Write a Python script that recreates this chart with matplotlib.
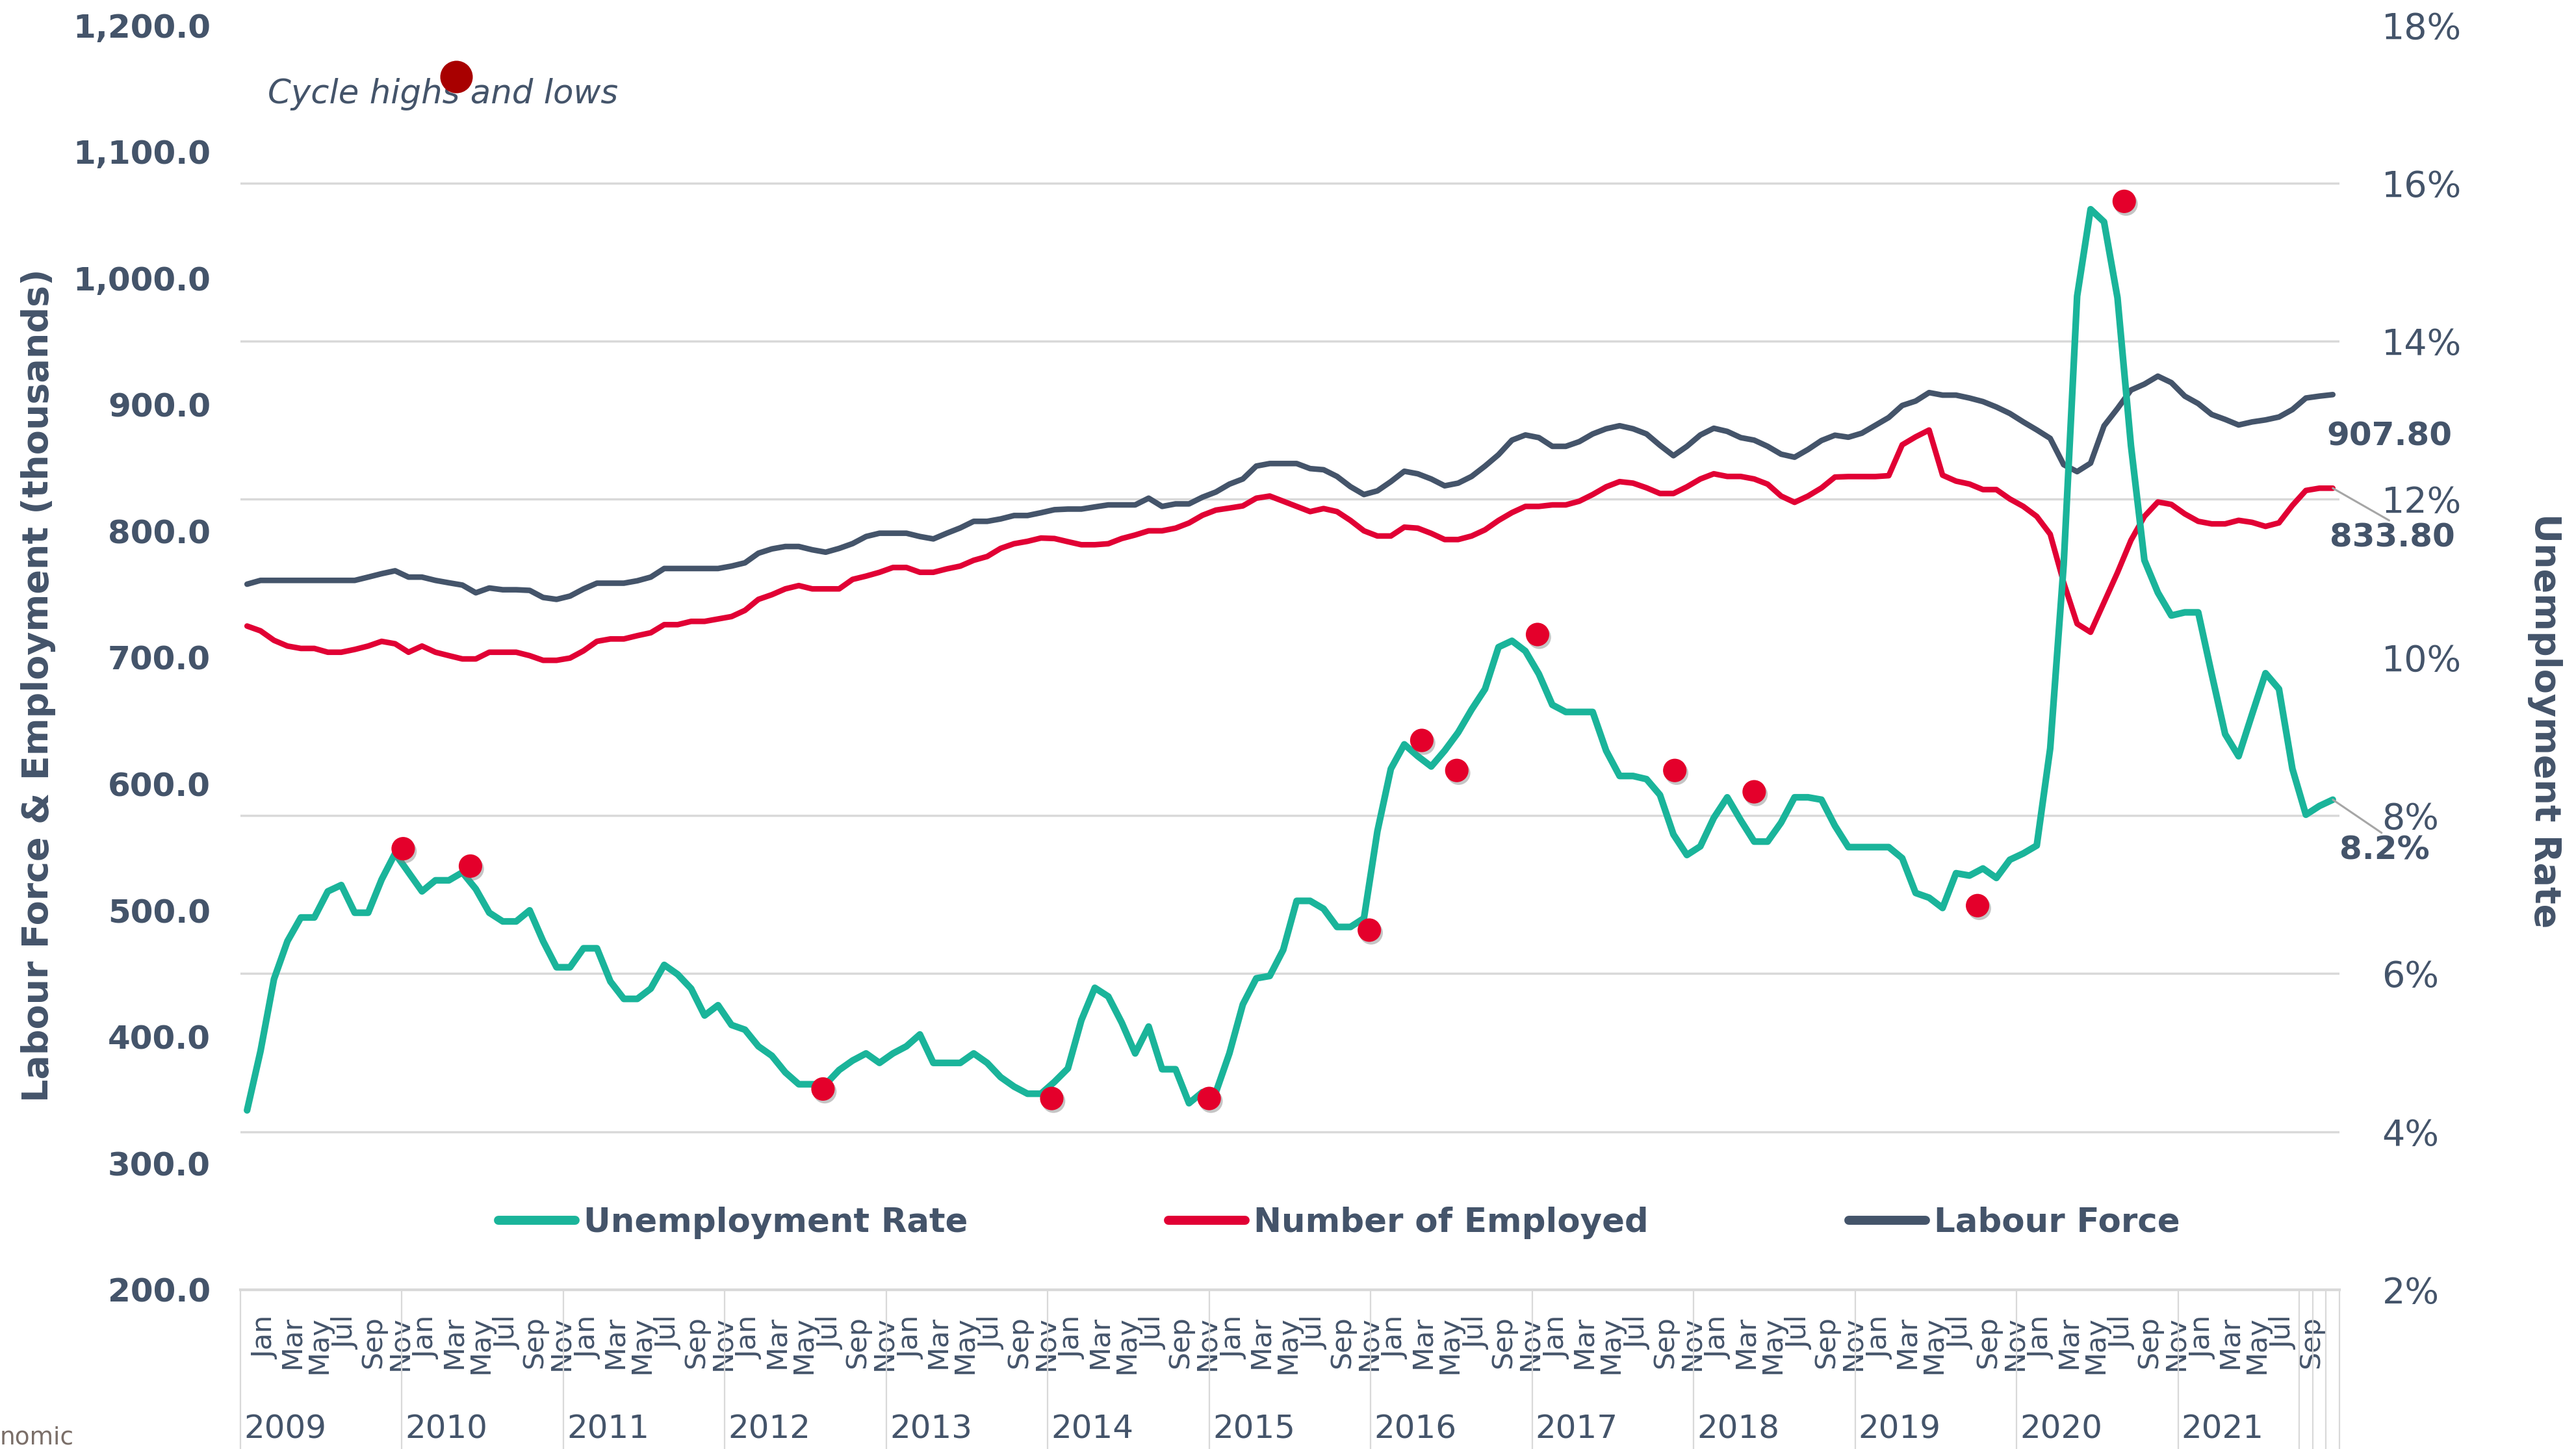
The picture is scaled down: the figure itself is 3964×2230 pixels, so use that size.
import numpy as np
import matplotlib
matplotlib.use('Agg')
import matplotlib.pyplot as plt
from matplotlib import patheffects as pe
from matplotlib.lines import Line2D
from matplotlib.legend_handler import HandlerLine2D
from matplotlib.transforms import ScaledTranslation, blended_transform_factory

plt.rcParams['font.family'] = ['DejaVu Sans']

# monthly series, Jan 2009 .. Dec 2021
unemployment_rate = [
    4.27, 5.02, 5.93, 6.41, 6.71, 6.71, 7.04, 7.12, 6.77, 6.77, 7.19, 7.52,
    7.28, 7.04, 7.18, 7.18, 7.28, 7.07, 6.77, 6.66, 6.66, 6.80, 6.41, 6.08,
    6.08, 6.32, 6.32, 5.90, 5.68, 5.68, 5.81, 6.11, 5.99, 5.81, 5.47, 5.60,
    5.35, 5.29, 5.08, 4.96, 4.75, 4.60, 4.60, 4.60, 4.78, 4.90, 4.99, 4.87,
    4.99, 5.08, 5.23, 4.87, 4.87, 4.87, 4.99, 4.87, 4.69, 4.57, 4.48, 4.48,
    4.63, 4.80, 5.41, 5.82, 5.71, 5.38, 4.99, 5.33, 4.79, 4.79, 4.36, 4.50,
    4.50, 4.99, 5.61, 5.94, 5.97, 6.30, 6.92, 6.92, 6.82, 6.59, 6.59, 6.70,
    7.80, 8.59, 8.90, 8.75, 8.62, 8.82, 9.05, 9.34, 9.60, 10.13, 10.21, 10.08,
    9.79, 9.40, 9.31, 9.31, 9.31, 8.82, 8.50, 8.50, 8.46, 8.26, 7.76, 7.50,
    7.61, 7.97, 8.23, 7.94, 7.67, 7.67, 7.91, 8.23, 8.23, 8.20, 7.87, 7.60,
    7.60, 7.60, 7.60, 7.46, 7.02, 6.96, 6.83, 7.27, 7.24, 7.33, 7.21, 7.44,
    7.52, 7.62, 8.85, 11.17, 14.57, 15.67, 15.51, 14.55, 12.68, 11.23, 10.82, 10.53,
    10.57, 10.57, 9.79, 9.03, 8.75, 9.28, 9.80, 9.60, 8.59, 8.01, 8.12, 8.20,
]

employed = [
    724.8, 721.0, 713.5, 709.0, 707.1, 707.1, 704.1, 704.1, 706.3, 709.0, 712.7, 710.8,
    704.1, 709.0, 704.1, 701.4, 698.8, 698.8, 704.1, 704.1, 704.1, 701.4, 697.7, 697.7,
    699.5, 705.2, 712.7, 714.6, 714.6, 717.2, 719.5, 725.9, 725.9, 728.5, 728.5, 730.4,
    732.3, 737.2, 745.9, 749.6, 754.2, 756.8, 754.2, 754.2, 754.2, 761.7, 764.3, 767.3,
    771.1, 771.1, 767.3, 767.3, 770.0, 772.2, 776.8, 779.8, 786.2, 789.9, 791.8, 794.4,
    794.0, 791.5, 789.1, 789.1, 789.9, 794.0, 796.8, 800.1, 800.1, 802.2, 806.3, 812.4,
    816.5, 818.1, 819.8, 825.9, 827.6, 823.5, 819.4, 815.3, 817.7, 815.3, 808.3, 800.1,
    796.0, 796.0, 803.0, 802.2, 798.1, 793.2, 793.2, 796.0, 800.9, 808.3, 814.5, 819.4,
    819.4, 820.6, 820.6, 823.5, 828.8, 834.9, 839.0, 837.8, 834.1, 829.6, 829.6, 834.9,
    841.1, 845.2, 843.1, 843.1, 841.1, 837.0, 827.6, 822.6, 827.6, 834.0, 842.6, 843.0,
    843.0, 843.0, 843.7, 868.1, 874.4, 879.8, 844.1, 839.4, 837.1, 832.7, 832.7, 825.3,
    819.4, 811.5, 797.4, 759.2, 726.6, 719.9, 743.5, 767.1, 792.6, 811.5, 822.9, 821.0,
    813.5, 807.6, 805.6, 805.6, 808.4, 806.8, 803.6, 806.4, 820.2, 832.0, 833.8, 833.8,
]

labour_force = [
    757.9, 760.9, 760.9, 760.9, 760.9, 760.9, 760.9, 760.9, 760.9, 763.5, 766.2, 768.5,
    763.5, 763.5, 760.9, 759.0, 757.2, 751.1, 754.9, 753.5, 753.5, 753.0, 747.4, 745.9,
    748.5, 754.1, 758.7, 758.7, 758.7, 760.6, 763.5, 770.3, 770.3, 770.3, 770.3, 770.3,
    772.2, 774.8, 782.4, 785.8, 787.7, 787.7, 785.1, 783.2, 786.2, 790.0, 795.6, 798.2,
    798.2, 798.2, 795.6, 793.7, 798.2, 802.4, 807.6, 807.6, 809.5, 812.2, 812.2, 814.4,
    816.8, 817.3, 817.3, 819.0, 820.6, 820.6, 820.6, 825.9, 819.4, 821.4, 821.4, 826.7,
    830.8, 837.0, 841.1, 851.3, 853.3, 853.3, 853.3, 849.3, 848.4, 843.1, 835.0, 828.8,
    831.7, 839.0, 847.2, 845.2, 841.1, 835.7, 837.8, 843.1, 851.3, 860.3, 871.8, 875.9,
    873.8, 866.9, 866.9, 870.6, 876.7, 880.8, 883.2, 880.8, 876.7, 867.7, 859.5, 866.9,
    875.9, 881.2, 878.7, 873.8, 871.8, 866.9, 860.7, 858.3, 864.4, 871.5, 875.7, 874.1,
    877.3, 883.5, 889.7, 899.2, 902.7, 909.4, 907.4, 907.4, 905.1, 902.3, 898.0, 892.9,
    886.2, 879.9, 873.2, 852.4, 846.9, 853.6, 883.1, 896.8, 911.4, 916.1, 922.4, 917.3,
    906.6, 900.7, 892.1, 888.2, 883.8, 886.2, 887.8, 890.1, 896.0, 905.1, 906.6, 907.8,
]

# cycle highs and lows (month position, rate)
cycle_pos = [11.6, 16.6, 42.8, 59.8, 71.5, 83.4, 87.3, 89.9, 95.9, 106.1, 112.0, 128.6, 139.5]
cycle_rate = [7.58, 7.36, 4.54, 4.42, 4.42, 6.55, 8.95, 8.57, 10.29, 8.57, 8.30, 6.86, 15.77]

first_year = 2009
month_abbr = ['Jan', 'Feb', 'Mar', 'Apr', 'May', 'Jun',
              'Jul', 'Aug', 'Sep', 'Oct', 'Nov', 'Dec']
labelled_months = 153   # category labels run Jan 2009 .. Sep 2021

slate = '#44546A'
teal = '#1AB49A'
red = '#E10034'
grid_c = '#D9D9D9'


class RaisedMarker(HandlerLine2D):
    # legend key drawn a little above the text line, as in the source chart
    def create_artists(self, legend, orig_handle, xdescent, ydescent, width, height,
                       fontsize, trans):
        arts = super().create_artists(legend, orig_handle, xdescent, ydescent, width,
                                      height, fontsize, trans)
        for a in arts:
            a.set_ydata(np.asarray(a.get_ydata()) + 0.45 * fontsize)
        return arts


fig = plt.figure(figsize=(39.64, 22.30), dpi=100)
ax = fig.add_axes([0.0933, 0.1099, 0.8149, 0.8728])
ax2 = ax.twinx()

n = len(unemployment_rate)
x = np.arange(n)

lf_line, = ax.plot(x, labour_force, color=slate, lw=6.2,
                   solid_joinstyle='round', solid_capstyle='round', zorder=3)
emp_line, = ax.plot(x, employed, color=red, lw=6.2,
                    solid_joinstyle='round', solid_capstyle='round', zorder=3)
ur_line, = ax2.plot(x, unemployment_rate, color=teal, lw=7.4,
                    solid_joinstyle='round', solid_capstyle='round', zorder=3)
ax2.plot(cycle_pos, cycle_rate, ls='none', marker='o', ms=26, color='#E4002B',
         markeredgewidth=0, zorder=4,
         path_effects=[pe.SimplePatchShadow(offset=(2, -3), shadow_rgbFace='#7F7F7F', alpha=0.45),
                       pe.Normal()])

# axes ranges
ax.set_xlim(-0.5, n - 0.5)
ax.set_ylim(200, 1200)
ax2.set_ylim(2, 18)

# left axis
ax.set_yticks(np.arange(200, 1201, 100))
ax.set_yticklabels([f'{v:,.1f}' for v in np.arange(200, 1201, 100)],
                   fontsize=36, fontweight='bold', color=slate)
ax.tick_params(axis='y', length=0, pad=33)

# gridlines follow the right axis steps
rate_ticks = np.arange(2, 19, 2)
grid_levels = 200 + (rate_ticks - 2) * (1000 / 16)
ax.set_yticks(grid_levels, minor=True)
ax.tick_params(axis='y', which='minor', length=0)
ax.grid(False)
ax.grid(True, which='minor', axis='y', color=grid_c, lw=2.5)
ax.set_axisbelow(True)

# right axis
ax2.set_yticks(rate_ticks)
ax2.set_yticklabels([f'{v:.0f}%' for v in rate_ticks], fontsize=40, color=slate)
ax2.tick_params(axis='y', length=0, pad=47)

for a in (ax, ax2):
    for s in a.spines.values():
        s.set_visible(False)
ax.spines['bottom'].set_visible(True)
ax.spines['bottom'].set_color(grid_c)
ax.spines['bottom'].set_linewidth(3)

# month category labels
tick_idx = x[:labelled_months:2]
ax.set_xticks(tick_idx)
ax.set_xticklabels([month_abbr[i % 12] for i in tick_idx], rotation=90,
                   fontsize=31, color=slate)
ax.tick_params(axis='x', length=0, pad=29)
shift = ScaledTranslation(0.28, 0, fig.dpi_scale_trans)
for lab in ax.get_xticklabels():
    lab.set_transform(lab.get_transform() + shift)

# year groups and separators
trans = blended_transform_factory(ax.transData, ax.transAxes)
year_starts = x[x % 12 == 0]
bounds = list(year_starts - 0.5) + list(np.arange(labelled_months, n + 1) - 0.5)
for b in bounds:
    ax.plot([b, b], [0, -0.13], transform=trans, color=grid_c, lw=1.6, clip_on=False)
for s in year_starts:
    ax.text(s - 0.25, -0.110, str(first_year + s // 12), transform=trans,
            ha='left', va='center', fontsize=36, color=slate)

# axis titles
ax.set_ylabel('Labour Force & Employment (thousands)', fontsize=40, fontweight='bold',
              color=slate, va='center')
ax.yaxis.set_label_coords(-0.0963, 0.478)
ax2.set_ylabel('Unemployment Rate', fontsize=40, fontweight='bold', color=slate,
               rotation=270, va='center')
ax2.yaxis.set_label_coords(1.0978, 0.450)

# end-of-series labels
ax.annotate(f'{labour_force[-1]:.2f}', xy=(x[-1], labour_force[-1]), xytext=(63, -46),
            textcoords='offset points', ha='center', va='center',
            fontsize=36, fontweight='bold', color=slate)
ax.annotate(f'{employed[-1]:.2f}', xy=(x[-1], employed[-1]), xytext=(66, -55),
            textcoords='offset points', ha='center', va='center',
            fontsize=36, fontweight='bold', color=slate,
            arrowprops=dict(arrowstyle='-', color='#A6A6A6', lw=2.2,
                            relpos=(0.5, 1.0), shrinkA=0, shrinkB=0))
ax2.annotate(f'{unemployment_rate[-1]:.1f}%', xy=(x[-1], unemployment_rate[-1]),
             xytext=(57, -56), textcoords='offset points', ha='center', va='center',
             fontsize=36, fontweight='bold', color=slate,
             arrowprops=dict(arrowstyle='-', color='#A6A6A6', lw=2.2,
                             relpos=(0.5, 1.0), shrinkA=0, shrinkB=0))

# legends
leg = ax2.legend([ur_line, emp_line, lf_line],
                 ['Unemployment Rate', 'Number of Employed', 'Labour Force'],
                 loc='center', bbox_to_anchor=(0.5235, 0.053), ncol=3, frameon=False,
                 handlelength=2.3, handletextpad=0.25, columnspacing=6.0,
                 prop={'size': 37, 'weight': 'bold'})
for t in leg.get_texts():
    t.set_color(slate)
for h in leg.get_lines():
    h.set_linewidth(10)
    h.set_solid_capstyle('round')

cycle_key = Line2D([], [], ls='none', marker='o', ms=36, color='#A80000', markeredgewidth=0)
leg2 = fig.legend([cycle_key], ['Cycle highs and lows'], loc='upper left',
                  bbox_to_anchor=(0.104, 0.946), frameon=False, markerfirst=False,
                  handlelength=1.0, handletextpad=-5.35, borderpad=0, borderaxespad=0,
                  handler_map={cycle_key: RaisedMarker()},
                  prop={'size': 37, 'style': 'italic'})
for t in leg2.get_texts():
    t.set_color(slate)

fig.text(0.0, 0.008, 'nomic', fontsize=27, color='#7A6E68', ha='left', va='center')

fig.savefig('out.png', dpi=100)
